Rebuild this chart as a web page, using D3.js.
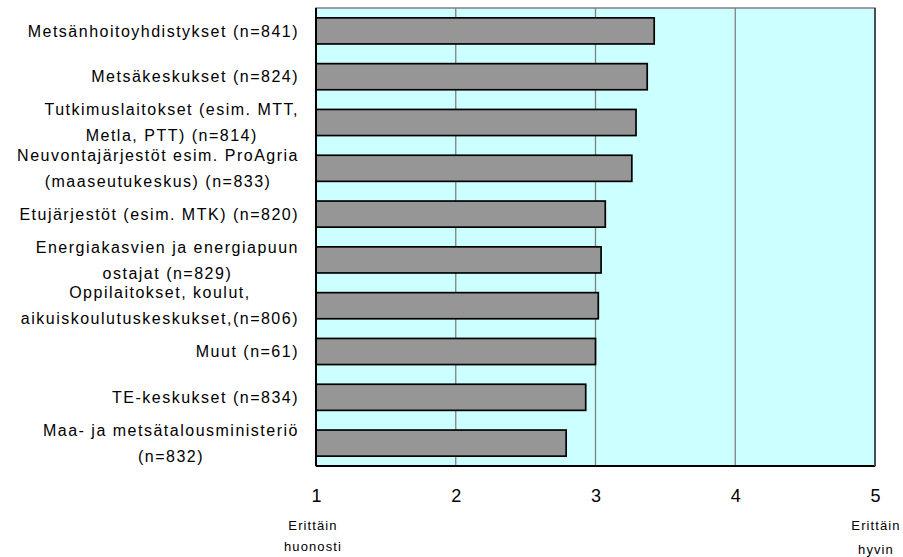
<!DOCTYPE html>
<html>
<head>
<meta charset="utf-8">
<script src="https://cdn.jsdelivr.net/npm/d3@7"></script>
<style>
  html, body { margin: 0; padding: 0; background: #ffffff; }
  svg { display: block; font-family: "Liberation Sans", Arial, sans-serif; }
</style>
</head>
<body>
<svg id="chart" width="903" height="557"></svg>
<script>
// Organisations (line breaks as drawn) and their mean ratings on a 1–5 scale
const categories = [
  "Metsänhoitoyhdistykset (n=841)",
  "Metsäkeskukset (n=824)",
  "Tutkimuslaitokset (esim. MTT,\nMetla, PTT) (n=814)",
  "Neuvontajärjestöt esim. ProAgria\n(maaseutukeskus) (n=833)",
  "Etujärjestöt (esim. MTK) (n=820)",
  "Energiakasvien ja energiapuun\nostajat (n=829)",
  "Oppilaitokset, koulut,\naikuiskoulutuskeskukset,(n=806)",
  "Muut (n=61)",
  "TE-keskukset (n=834)",
  "Maa- ja metsätalousministeriö\n(n=832)"
];
const ratings = [3.42, 3.37, 3.29, 3.26, 3.07, 3.04, 3.02, 3.00, 2.93, 2.79];
const tickValues = [1, 2, 3, 4, 5];
const scaleEndLabels = [
  { value: 1, lines: ["Erittäin", "huonosti"] },
  { value: 5, lines: ["Erittäin", "hyvin"] }
];

const svg = d3.select("#chart");
const plot = { left: 316, right: 875, top: 8, bottom: 466 };

const x = d3.scaleLinear().domain([1, 5]).range([plot.left, plot.right]);
const y = d3.scaleBand()
  .domain(d3.range(categories.length))
  .range([plot.top, plot.bottom])
  .paddingInner(0.43)
  .paddingOuter(0.215);

// plot background
svg.append("rect")
  .attr("x", plot.left).attr("y", plot.top)
  .attr("width", plot.right - plot.left).attr("height", plot.bottom - plot.top)
  .attr("fill", "#ccffff")
  .attr("stroke", "#808080").attr("stroke-width", 1.5);

// vertical gridlines
svg.append("g")
  .selectAll("line")
  .data(tickValues.filter(v => v > 1 && v < 5))
  .join("line")
  .attr("x1", d => x(d)).attr("x2", d => x(d))
  .attr("y1", plot.top).attr("y2", plot.bottom)
  .attr("stroke", "#808080").attr("stroke-width", 1.3);

// bars
svg.append("g")
  .selectAll("rect")
  .data(ratings)
  .join("rect")
  .attr("x", x(1))
  .attr("y", (d, i) => y(i))
  .attr("width", d => x(d) - x(1))
  .attr("height", y.bandwidth())
  .attr("fill", "#969696")
  .attr("stroke", "#000000")
  .attr("stroke-width", 1.7);

// axis lines
svg.append("line")
  .attr("x1", plot.left).attr("x2", plot.left)
  .attr("y1", plot.top).attr("y2", plot.bottom)
  .attr("stroke", "#000").attr("stroke-width", 2);
svg.append("line")
  .attr("x1", plot.left).attr("x2", plot.right)
  .attr("y1", plot.bottom).attr("y2", plot.bottom)
  .attr("stroke", "#000").attr("stroke-width", 2);
svg.append("line")
  .attr("x1", plot.right).attr("x2", plot.right)
  .attr("y1", plot.top).attr("y2", plot.bottom)
  .attr("stroke", "#333").attr("stroke-width", 1.5);

// category labels: centered blocks, right-aligned against the axis
const labelFont = 16, lineGap = 26, labelRight = 299;
const labels = svg.append("g")
  .attr("font-size", labelFont)
  .attr("letter-spacing", "1.5px")
  .attr("fill", "#000");

categories.forEach((cat, i) => {
  const lines = cat.split("\n");
  const cy = y(i) + y.bandwidth() / 2;
  const g = labels.append("g");
  const texts = lines.map((ln, k) =>
    g.append("text")
      .attr("y", cy + (k - (lines.length - 1) / 2) * lineGap + labelFont * 0.35)
      .attr("text-anchor", "middle")
      .text(ln)
  );
  const maxW = d3.max(texts, t => t.node().getComputedTextLength());
  texts.forEach(t => t.attr("x", labelRight - maxW / 2));
});

// x axis tick numbers
const xAxis = d3.axisBottom(x).tickValues(tickValues).tickSize(0).tickPadding(0)
  .tickFormat(d3.format("d"));
const axisG = svg.append("g")
  .attr("transform", `translate(0, ${plot.bottom})`)
  .call(xAxis);
axisG.select(".domain").remove();
axisG.selectAll("text")
  .attr("font-family", "'Liberation Sans', Arial, sans-serif")
  .attr("font-size", 18)
  .attr("fill", "#000")
  .attr("dy", null)
  .attr("y", 36);

// verbal anchors under the scale ends
scaleEndLabels.forEach(s => {
  s.lines.forEach((ln, k) => {
    svg.append("text")
      .attr("x", x(s.value) + (s.value === 1 ? -3 : 1))
      .attr("y", k === 0 ? 530 : (s.value === 1 ? 551 : 554))
      .attr("text-anchor", "middle")
      .attr("font-size", 13)
      .attr("letter-spacing", "1.1px")
      .attr("fill", "#000")
      .text(ln);
  });
});
</script>
</body>
</html>
